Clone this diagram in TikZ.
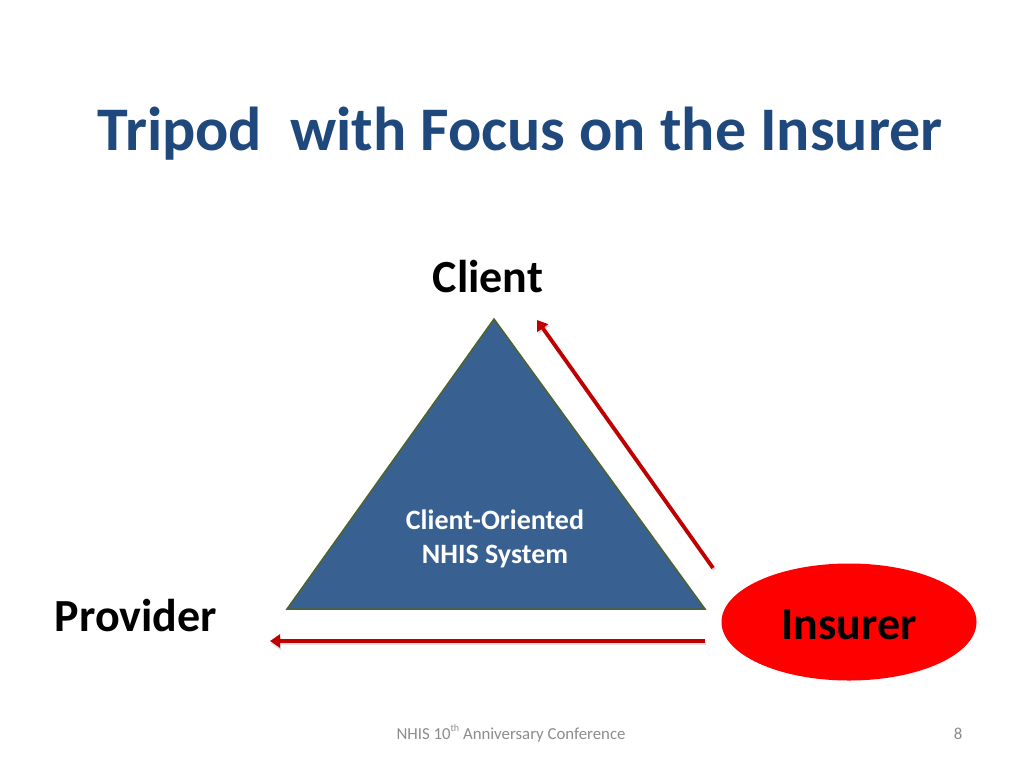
\documentclass[tikz,border=0pt]{standalone}
\usepackage{fontspec}
\setmainfont{Carlito}
\usetikzlibrary{arrows.meta,shapes.geometric}
\definecolor{titleblue}{HTML}{1F497D}
\definecolor{triblue}{HTML}{386192}
\definecolor{triedge}{HTML}{4F6228}
\definecolor{arrowred}{HTML}{C00000}
\definecolor{footgray}{HTML}{8C8C8C}
\tikzset{
  label/.style={font=\fontsize{46}{52}\selectfont\bfseries, text=black, inner sep=0pt},
  redarrow/.style={draw=arrowred, line width=3.8pt, -{Triangle[length=10pt,width=13pt]}},
  shadowline/.style={draw=black!25, line width=3.8pt, opacity=0.5, -{Triangle[length=10pt,width=13pt]}},
}
\begin{document}
\begin{tikzpicture}[x=1pt,y=-1pt]
\useasboundingbox[fill=white] (0,0) rectangle (1024,768);
% title
\node[font=\fontsize{62}{68}\selectfont\bfseries, text=titleblue, inner sep=0pt, anchor=base] (title) at (520,150) {Tripod\ \ with Focus on the Insurer};
% triangle
\coordinate (A) at (494,319);
\coordinate (B) at (287,609);
\coordinate (C) at (705,609);
\fill[triblue, draw=triedge, line width=1.5pt, line join=miter] (A) -- (B) -- (C) -- cycle;
\node[font=\fontsize{28}{34}\selectfont\bfseries, text=white, align=center, inner sep=0pt] (sys) at (495,539) {Client-Oriented\\NHIS System};
% labels
\node[label] (client) at (488,277) {Client};
\node[label] (provider) at (136,616) {Provider};
\node[ellipse, fill=red, minimum width=255pt, minimum height=117pt, inner sep=0pt] (insurer) at (849,622) {};
\node[label] (ins) at (849,625) {Insurer};
% arrows
\coordinate (u1) at (713,568);
\coordinate (u2) at (537,320);
\coordinate (l1) at (705,641);
\coordinate (l2) at (270,641);
\draw[shadowline, transform canvas={shift={(1.5pt,-2pt)}}] (u1) -- (u2);
\draw[shadowline, transform canvas={shift={(1pt,-2.5pt)}}] (l1) -- (l2);
\draw[redarrow] (u1) -- (u2);
\draw[redarrow] (l1) -- (l2);
% footer
\node[font=\fontsize{16.8}{18}\selectfont, text=footgray, inner sep=0pt, anchor=base] (foot) at (511,739) {NHIS 10{\raisebox{0.45em}{\fontsize{10}{10}\selectfont th}} Anniversary Conference};
\node[font=\fontsize{16.8}{18}\selectfont, text=footgray, inner sep=0pt, anchor=base] (page) at (958,739) {8};
\end{tikzpicture}
\end{document}
